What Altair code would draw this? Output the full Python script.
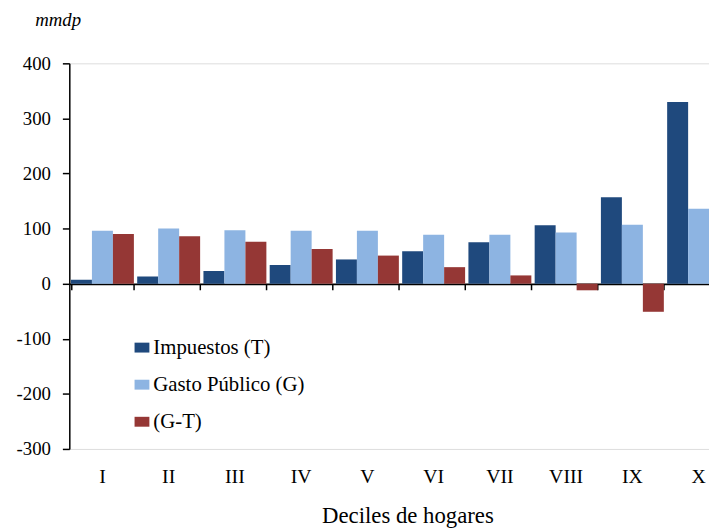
import altair as alt
import pandas as pd

deciles = ["I", "II", "III", "IV", "V", "VI", "VII", "VIII", "IX", "X"]
series = ["Impuestos (T)", "Gasto Público (G)", "(G-T)"]
impuestos = [7, 13, 23, 34, 44, 59, 75, 106, 157, 330]
gasto = [96, 100, 97, 96, 96, 89, 89, 93, 107, 136]
g_menos_t = [90, 86, 76, 63, 51, 30, 15, -12, -51, -194]
colors = ["#1f497d", "#8db4e2", "#953735"]
y_ticks = [-300, -200, -100, 0, 100, 200, 300, 400]

rows = []
for s, vals in zip(series, [impuestos, gasto, g_menos_t]):
    for d, v in zip(deciles, vals):
        rows.append({"decil": d, "serie": s, "valor": v})
df = pd.DataFrame(rows)

FONT = "Liberation Serif, Times New Roman, serif"
xscale = alt.Scale(domain=deciles, range=[0, 670], paddingInner=0.05, paddingOuter=0.025)
yscale = alt.Scale(domain=[-300, 400], nice=False, zero=False)

bars = alt.Chart(df).mark_bar(clip=True).encode(
    x=alt.X("decil:N", scale=xscale, sort=deciles,
            axis=alt.Axis(orient="bottom", domain=False, ticks=False, labelAngle=0,
                          labelPadding=18, labelFontSize=20, labelFont=FONT, labelColor="#000",
                          title="Deciles de hogares", titleFont=FONT, titleFontSize=23,
                          titleFontWeight="normal", titleColor="#000",
                          titleX=342, titleY=74, titleBaseline="alphabetic")),
    xOffset=alt.XOffset("serie:N", sort=series, scale=alt.Scale(paddingInner=0, paddingOuter=0)),
    y=alt.Y("valor:Q", scale=yscale,
            axis=alt.Axis(values=y_ticks, grid=False, domainColor="#000", domainWidth=1.5,
                          tickColor="#000", tickWidth=1.5, tickSize=7, labelPadding=12,
                          labelFontSize=19, labelFont=FONT, labelColor="#000",
                          labelExpr="'' + datum.value",
                          title="mmdp", titleAngle=0, titleAlign="left", titleBaseline="alphabetic",
                          titleX=-35, titleY=-38, titleFont=FONT, titleFontSize=19,
                          titleFontStyle="italic", titleFontWeight="normal", titleColor="#000")),
    color=alt.Color("serie:N", sort=series, scale=alt.Scale(domain=series, range=colors),
                    legend=alt.Legend(title=None, orient="none", legendX=63, legendY=277,
                                      symbolType="M-1,-0.667H1V0.667H-1Z", symbolSize=225,
                                      symbolStrokeWidth=0, labelFont=FONT, labelFontSize=21,
                                      labelColor="#000", labelOffset=1, rowPadding=15.5)),
)

zero_axis = alt.Chart(pd.DataFrame({"decil": deciles, "valor": [0] * 10})).mark_point(opacity=0).encode(
    x=alt.X("decil:N", scale=xscale, sort=deciles,
            axis=alt.Axis(orient="bottom", offset=-167, labels=False, title=None,
                          domainColor="#000", domainWidth=1.8, tickColor="#000", tickWidth=1.5,
                          tickSize=6, tickBand="extent")),
    y=alt.Y("valor:Q", scale=yscale),
)

chart = alt.layer(bars, zero_axis).resolve_axis(x="independent").properties(
    width=647, height=390,
    autosize=alt.AutoSizeParams(type="none"),
    padding={"left": 62, "top": 53, "right": 0, "bottom": 78},
).configure_view(stroke=None).configure(background="white")

chart.save("out.html", embed_options={"renderer": "svg", "actions": False})
